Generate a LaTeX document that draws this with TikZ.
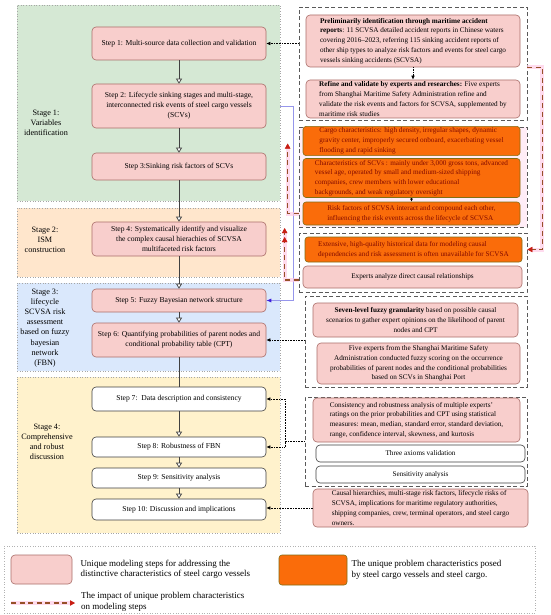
\documentclass[tikz,border=0pt]{standalone}
\usepackage{fontspec}
\setmainfont{Liberation Serif}
\usetikzlibrary{arrows.meta, positioning, calc}
\definecolor{stepred}{RGB}{248,206,204}
\definecolor{stepline}{RGB}{170,110,105}
\definecolor{charorange}{RGB}{250,108,10}
\definecolor{charline}{RGB}{130,110,20}
\definecolor{chartext}{RGB}{130,10,0}
\definecolor{stagegreen}{RGB}{213,232,212}
\definecolor{stageorange}{RGB}{255,230,204}
\definecolor{stageblue}{RGB}{218,232,252}
\definecolor{stageyellow}{RGB}{255,242,204}
\definecolor{impactbrown}{RGB}{150,80,40}
\definecolor{impactred}{RGB}{200,30,20}
\definecolor{linkblue}{RGB}{150,150,235}
\definecolor{tipblue}{RGB}{60,30,220}
\definecolor{glowpink}{RGB}{255,205,232}

\begin{document}
\begin{tikzpicture}[x=1pt, y=-1pt,
  every node/.style={font=\fontsize{7.2}{9.8}\selectfont},
  stagebox/.style={draw=gray!70, dotted, line width=.6pt, inner sep=0pt},
  stagelabel/.style={align=center, font=\fontsize{8.2}{10.2}\selectfont},
  stepbox/.style={draw=stepline, fill=stepred, rounded corners=4pt, line width=.6pt, minimum width=174pt, inner xsep=1pt, inner ysep=1pt, align=center, font=\fontsize{7.6}{10}\selectfont},
  plainstep/.style={stepbox, draw=black!75, fill=white},
  groupbox/.style={draw=black!65, dash pattern=on 4pt off 2.5pt, line width=.7pt, inner sep=0pt},
  infobox/.style={draw=stepline, fill=stepred, rounded corners=4pt, line width=.6pt, inner sep=1.5pt},
  charbox/.style={draw=charline, fill=charorange, text=chartext, rounded corners=3pt, line width=.6pt, inner sep=1.5pt, align=left},
  flow/.style={draw=black!75, line width=.7pt, -{Triangle[fill=white, length=5pt, width=6pt]}},
  feed/.style={draw=black, densely dotted, line width=.6pt, -{Latex[length=4pt, width=3.5pt]}},
  impact/.style={draw=impactbrown, line width=1.3pt, dash pattern=on 5pt off 3.5pt,
    preaction={draw=glowpink, line width=4pt, solid, opacity=.7},
    -{Triangle[length=5pt, width=5pt, color=impactred]}}
]
\useasboundingbox (0,0) rectangle (550,615);
\fill[white] (0,0) rectangle (550,615);

% stages
\node[stagebox, fill=stagegreen, minimum width=263pt, minimum height=196pt] (stage1) at (148.5,103) {};
\node[stagebox, fill=stageorange, minimum width=263pt, minimum height=69pt] (stage2) at (148.5,242.5) {};
\node[stagebox, fill=stageblue, minimum width=263pt, minimum height=88pt] (stage3) at (148.5,327) {};
\node[stagebox, fill=stageyellow, minimum width=263pt, minimum height=156pt] (stage4) at (148.5,455) {};

\node[stagelabel] (lab1) at (46,123) {Stage 1:\\Variables\\identification};
\node[stagelabel] (lab2) at (45,240) {Stage 2:\\ISM\\construction};
\node[stagelabel] (lab3) at (45,328) {Stage 3:\\lifecycle\\SCVSA risk\\assessment\\based on fuzzy\\bayesian\\network\\(FBN)};
\node[stagelabel] (lab4) at (47,442) {Stage 4:\\Comprehensive\\and robust\\discussion};

% steps
\node[stepbox, minimum height=33pt] (s1) at (179,43.5) {Step 1: Multi-source data collection and validation};
\node[stepbox, minimum height=44pt] (s2) at (179,106) {Step 2: Lifecycle sinking stages and multi-stage,\\interconnected risk events of steel cargo vessels\\(SCVs)};
\node[stepbox, minimum height=27pt] (s3) at (179,166.5) {Step 3:Sinking risk factors of SCVs};
\node[stepbox, minimum height=34pt] (s4) at (179,239) {Step 4: Systematically identify and visualize\\the complex causal hierachies of SCVSA\\multifaceted risk factors};
\node[stepbox, minimum height=23pt] (s5) at (179,300.5) {Step 5: Fuzzy Bayesian network structure};
\node[stepbox, minimum height=34pt] (s6) at (179,340) {Step 6: Quantifying probabilities of parent nodes and\\conditional probability table (CPT)};
\node[plainstep, minimum height=24pt] (s7) at (179,399) {Step 7:\ \ Data description and consistency};
\node[plainstep, minimum height=20pt] (s8) at (179,447) {Step 8: Robustness of FBN};
\node[plainstep, minimum height=20pt] (s9) at (179,478) {Step 9: Sensitivity analysis};
\node[plainstep, minimum height=21pt] (s10) at (179,509.5) {Step 10: Discussion and implications};

\draw[flow] (s1) -- (s2);
\draw[flow] (s2) -- (s3);
\draw[flow] (s3) -- (s4);
\draw[flow] (s4) -- (s5);
\draw[flow] (s5) -- (s6);
\draw[draw=black!75, line width=.7pt] (s6) -- (s7);
\draw[flow] (s7) -- (s8);
\draw[flow] (s8) -- (s9);
\draw[flow] (s9) -- (s10);

% right column
\node[groupbox, minimum width=228pt, minimum height=113pt] (g1) at (413,63.5) {};
\node[groupbox, fill=glowpink!35, minimum width=228pt, minimum height=100pt] (g2) at (413,177) {};
\node[groupbox, minimum width=228pt, minimum height=59pt] (g3) at (413,262.5) {};
\node[groupbox, minimum width=222pt, minimum height=91pt] (g4) at (416,341.5) {};
\node[groupbox, minimum width=222pt, minimum height=89pt] (g5) at (416,441.5) {};

\node[infobox, align=left, minimum width=214pt, minimum height=52pt] (A) at (413,41) {\textbf{Preliminarily identification through maritime accident}\\\textbf{reports}: 11 SCVSA detailed accident reports in Chinese waters\\covering 2016–2023, referring 115 sinking accident reports of\\other ship types to analyze risk factors and events for steel cargo\\vessels sinking accidents (SCVSA)};
\node[infobox, align=left, minimum width=214pt, minimum height=38pt] (B) at (413,99) {\textbf{Refine and validate by experts and researches:} Five experts\\from Shanghai Maritime Safety Administration refine and\\validate the risk events and factors for SCVSA, supplemented by\\maritime risk studies};

\node[charbox, minimum width=217pt, minimum height=26pt] (O1) at (411.5,141) {Cargo characteristics: high density, irregular shapes, dynamic\\gravity center, improperly secured onboard, exacerbating vessel\\flooding and rapid sinking};
\node[charbox, minimum width=217pt, minimum height=38pt] (O2) at (411.5,178) {Characteristics of SCVs : mainly under 3,000 gross tons, advanced\\vessel age, operated by small and medium-sized shipping\\companies, crew members with lower educational\\backgrounds, and weak regulatory oversight};
\node[charbox, minimum width=217pt, minimum height=23pt] (O3) at (411.5,213.5) {Risk factors of SCVSA interact and compound each other,\\influencing the risk events across the lifecycle of SCVSA};

\node[charbox, minimum width=217pt, minimum height=25pt] (O4) at (413.5,249.5) {Extensive, high-quality historical data for modeling causal\\dependencies and risk assessment is often unavailable for SCVSA};
\node[infobox, minimum width=219pt, minimum height=22pt] (P) at (412.5,277) {Experts analyze direct causal relationships};

\node[infobox, align=center, minimum width=205pt, minimum height=34pt] (S1) at (415.5,320) {\textbf{Seven-level fuzzy granularity} based on possible causal\\scenarios to gather expert opinions on the likelihood of parent\\nodes and CPT};
\node[infobox, align=center, minimum width=203pt, minimum height=41pt] (S2) at (418.5,363.5) {Five experts from the Shanghai Maritime Safety\\Administration conducted fuzzy scoring on the occurrence\\probabilities of parent nodes and the conditional probabilities\\based on SCVs in Shanghai Port};

\node[infobox, align=left, minimum width=207pt, minimum height=44pt] (C1) at (416.5,420) {Consistency and robustness analysis of multiple experts'\\ratings on the prior probabilities and CPT using statistical\\measures: mean, median, standard error, standard deviation,\\range, confidence interval, skewness, and kurtosis};
\node[infobox, draw=black!75, fill=white, minimum width=209pt, minimum height=17pt] (W1) at (420.5,453.5) {Three axioms validation};
\node[infobox, draw=black!75, fill=white, minimum width=209pt, minimum height=17pt] (W2) at (420.5,474.5) {Sensitivity analysis};

\node[infobox, align=left, minimum width=215pt, minimum height=38pt] (D) at (420.5,508) {Causal hierarchies, multi-stage risk factors, lifecycle risks of\\SCVSA, implications for maritime regulatory authorities,\\shipping companies, crew, terminal operators, and steel cargo\\owners.};

% feedback links
\draw[feed] (A) -- (B);
\draw[-{Latex[length=3pt, width=3pt]}, line width=.6pt] (O2) -- (O3);
\draw[feed] (g1.west |- s1.east) -- (s1.east);
\draw[feed] (g4.west |- s6.east) -- (s6.east);
\coordinate (fork) at (285,441.5);
\draw[black, densely dotted, line width=.6pt] (g5.west) -- (fork);
\draw[feed] (fork) |- (s7.east);
\draw[feed] (fork) |- (s8.east);
\draw[feed] (D.west) -- (D.west -| s10.east);

\coordinate (linkstart) at (stage1.east |- s2.east);
\draw[linkblue, line width=.7pt, -{Latex[length=5pt, width=4pt, color=tipblue]}] (linkstart) -- ++(13,0) |- (s5.east);

% impact of problem characteristics
\draw[impact] (g1.east |- A.south) -- ++(15,0) |- (O4.east -| g3.east);
\draw[impact] (g2.west |- O3.west) -- ++(-11,0) -- ++(0,-70);
\draw[impact, -{Triangle[length=5pt, width=5pt, color=impactred, sep=4pt] Triangle[length=5pt, width=5pt, color=impactred]}] ($(g3.west)+(0,17.5)$) -- ++(-14,0) -- ++(0,-52);

% legend
\node[draw=gray!60, dotted, line width=.6pt, minimum width=531pt, minimum height=67pt, inner sep=0pt] (legend) at (269.5,579.5) {};
\node[infobox, minimum width=61pt, minimum height=29pt] (keystep) at (41.5,569.5) {};
\node[right=7pt of keystep, align=left, inner sep=1pt, font=\fontsize{9}{10.5}\selectfont] (keysteptext) {Unique modeling steps for addressing the\\distinctive characteristics of steel cargo vessels};
\node[charbox, minimum width=68pt, minimum height=30pt] (keychar) at (313,570) {};
\node[right=3pt of keychar, align=left, inner sep=1pt, font=\fontsize{9}{10.5}\selectfont] (keychartext) {The unique problem characteristics posed\\by steel cargo vessels and steel cargo.};
\coordinate (keyfrom) at (11,603);
\coordinate (keyto) at (75,603);
\draw[impact] (keyfrom) -- (keyto);
\node[right=5pt of keyto, align=left, inner sep=1pt, font=\fontsize{9}{10.5}\selectfont, yshift=1pt] (keyimpacttext) {The impact of unique problem characteristics\\on modeling steps};
\end{tikzpicture}
\end{document}
